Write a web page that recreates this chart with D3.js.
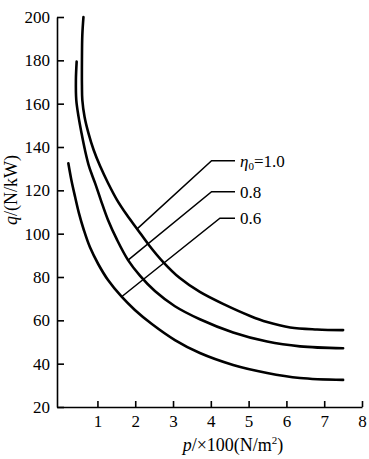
<!DOCTYPE html>
<html><head><meta charset="utf-8">
<script src="https://cdn.jsdelivr.net/npm/d3@7"></script>
<style>
html,body{margin:0;padding:0;background:#fff;}
svg text{font-family:"Liberation Serif","DejaVu Serif","Times New Roman",serif;fill:#000;}
</style></head>
<body>
<svg id="chart" width="369" height="459"></svg>
<script>
// ---- data ----
const xTicks = [1,2,3,4,5,6,7,8];
const yTicks = [20,40,60,80,100,120,140,160,180,200];

// eta0 = 1.0
const p10 = [0.63,0.60,0.59,0.59,0.60,0.66,0.76,0.90,1.07,1.28,1.52,1.78,2.05,2.36,2.74,3.18,3.71,4.38,5.04,5.49,6.10,6.81,7.50];
const q10 = [200,191.7,180.2,168.6,161.7,153.8,146.5,138.6,131.2,123.4,115.5,108.6,102.2,94.8,86.9,79.5,73.1,67.1,62.0,59.2,56.7,55.8,55.5];
// eta0 = 0.8
const p08 = [0.45,0.43,0.44,0.50,0.58,0.67,0.78,0.94,1.09,1.28,1.52,1.81,2.13,2.52,3.05,3.71,4.59,5.49,6.36,7.50];
const q08 = [179.4,170.9,161.7,154.0,146.3,138.6,130.9,123.2,115.5,106.3,97.1,87.8,80.5,73.5,66.5,60.5,54.4,50.2,48.0,47.1];
// eta0 = 0.6
const p06 = [0.23,0.31,0.41,0.51,0.64,0.80,1.02,1.28,1.64,1.99,2.44,3.05,3.71,4.59,5.49,6.36,7.50];
const q06 = [132.5,124.8,116.9,109.5,101.7,93.8,86.0,78.6,70.9,64.8,58.3,50.9,44.9,39.4,35.7,33.4,32.5];

const seriesNames = ["1.0","0.8","0.6"];
// leader lines: end on curve (p,q), elbow (p,q), horizontal end p
const leaderEndP = [2.05,1.81,1.64];
const leaderEndQ = [102.2,87.8,70.9];
const leaderElbowP = [4.02,4.02,4.24];
const leaderElbowQ = [133.7,119.4,107.1];
const leaderTailP = [4.64,4.64,4.64];

// ---- chart ----
const svg = d3.select("#chart");
const x = d3.scaleLinear().domain([-0.07,8]).range([57,362]);
const y = d3.scaleLinear().domain([20,200]).range([407,17]);

const xAxis = d3.axisBottom(x).tickValues(xTicks).tickSizeInner(-6).tickSizeOuter(0).tickPadding(8).tickFormat(d3.format("d"));
const gx = svg.append("g").attr("transform",`translate(0,${y(20)})`).call(xAxis);
const yAxis = d3.axisLeft(y).tickValues(yTicks).tickSizeInner(-7).tickSizeOuter(0).tickPadding(7).tickFormat(d3.format("d"));
const gy = svg.append("g").attr("transform",`translate(${x(-0.07)},0)`).call(yAxis);
[gx,gy].forEach(g=>{
  g.attr("font-family",null);
  g.selectAll("path,line").attr("stroke","#000").attr("stroke-width",1.6);
  g.selectAll("text").attr("font-size",17);
});

const line = d3.line().x(d=>x(d[0])).y(d=>y(d[1])).curve(d3.curveCatmullRom.alpha(0.5));
const series = [d3.zip(p10,q10), d3.zip(p08,q08), d3.zip(p06,q06)];
svg.append("g").selectAll("path").data(series).join("path")
  .attr("d",line).attr("fill","none").attr("stroke","#000").attr("stroke-width",2.6).attr("stroke-linecap","round");

// leaders
const lg = svg.append("g");
seriesNames.forEach((n,i)=>{
  lg.append("path").attr("fill","none").attr("stroke","#000").attr("stroke-width",1.5)
    .attr("d",d3.line()([[x(leaderEndP[i]),y(leaderEndQ[i])],[x(leaderElbowP[i]),y(leaderElbowQ[i])],[x(leaderTailP[i]),y(leaderElbowQ[i])]]));
  const t = lg.append("text").attr("x",x(leaderTailP[i])+5).attr("y",y(leaderElbowQ[i])).attr("dy","0.35em").attr("font-size",17);
  if(i===0){
    t.append("tspan").attr("font-style","italic").text("η");
    t.append("tspan").attr("font-size",11).attr("dy","0.3em").text("0");
    t.append("tspan").attr("dy","-0.2em").text("=1.0");
  } else t.text(n);
});

// axis titles
const yt = svg.append("text").attr("transform",`translate(17,190) rotate(-90)`).attr("text-anchor","middle").attr("font-size",18);
yt.append("tspan").attr("font-style","italic").text("q");
yt.append("tspan").text("/(N/kW)");
const xt = svg.append("text").attr("x",233).attr("y",451).attr("text-anchor","middle").attr("font-size",18);
xt.append("tspan").attr("font-style","italic").text("p");
xt.append("tspan").text("/×100(N/m");
xt.append("tspan").attr("font-size",11).attr("dy","-0.6em").text("2");
xt.append("tspan").attr("dy","0.35em").text(")");
</script>
</body></html>
